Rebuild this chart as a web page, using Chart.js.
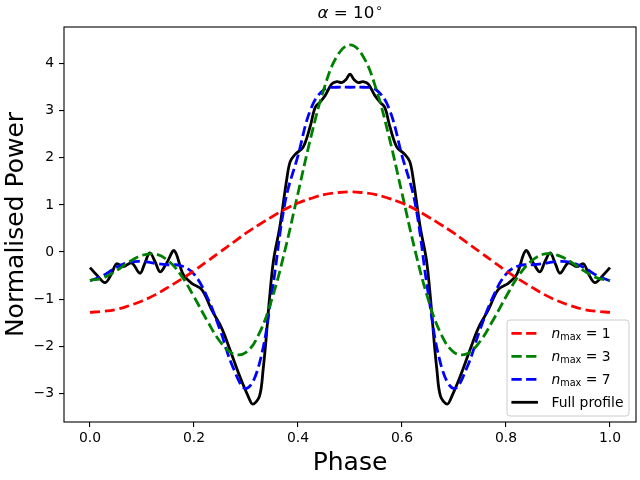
<!DOCTYPE html>
<html><head><meta charset="utf-8">
<script src="https://cdn.jsdelivr.net/npm/chart.js@4.4.1/dist/chart.umd.min.js"></script>
<style>html,body{margin:0;padding:0;background:#fff}#wrap{width:640px;height:480px}</style>
</head><body><div id="wrap"><canvas id="c" width="640" height="480"></canvas></div>
<script>
// ---- data ----
const phaseGrid = [0.000,0.025,0.050,0.075,0.100,0.125,0.150,0.175,0.200,0.225,0.250,0.275,0.300,0.325,0.350,0.375,0.400,0.425,0.450,0.475,0.500,
                   0.525,0.550,0.575,0.600,0.625,0.650,0.675,0.700,0.725,0.750,0.775,0.800,0.825,0.850,0.875,0.900,0.925,0.950,0.975,1.000];
const nmax1 = [-1.28,-1.26,-1.22,-1.14,-1.04,-0.91,-0.75,-0.58,-0.40,-0.20,0.00,0.20,0.40,0.58,0.75,0.91,1.04,1.14,1.22,1.26,1.28,
               1.26,1.22,1.14,1.04,0.91,0.75,0.58,0.40,0.20,0.00,-0.20,-0.40,-0.58,-0.75,-0.91,-1.04,-1.14,-1.22,-1.26,-1.28];
const nmax3 = [-0.60,-0.55,-0.40,-0.21,-0.07,-0.04,-0.18,-0.49,-0.95,-1.45,-1.90,-2.16,-2.13,-1.74,-0.99,0.04,1.25,2.45,3.47,4.16,4.40,
               4.16,3.47,2.45,1.25,0.04,-0.99,-1.74,-2.13,-2.16,-1.90,-1.45,-0.95,-0.49,-0.18,-0.04,-0.07,-0.21,-0.40,-0.55,-0.60];
const nmax7 = [-0.61,-0.50,-0.33,-0.22,-0.20,-0.24,-0.27,-0.29,-0.47,-0.95,-1.65,-2.45,-2.90,-2.40,-0.85,1.05,2.05,3.05,3.45,3.50,3.50,
               3.50,3.45,3.05,2.05,1.05,-0.85,-2.40,-2.90,-2.45,-1.65,-0.95,-0.47,-0.29,-0.27,-0.24,-0.20,-0.22,-0.33,-0.50,-0.61];
const fullPhase = [0.000,0.013,0.029,0.041,0.051,0.064,0.080,0.096,0.105,0.115,0.125,0.135,0.148,0.162,0.179,0.195,0.215,0.234,0.253,0.269,
                   0.288,0.304,0.313,0.326,0.333,0.338,0.345,0.353,0.365,0.378,0.385,0.395,0.410,0.423,0.433,0.442,0.452,0.465,0.475,0.484,
                   0.492,0.500,0.508,0.516,0.525,0.535,0.548,0.558,0.567,0.577,0.590,0.605,0.615,0.622,0.635,0.647,0.655,0.662,0.667,0.674,
                   0.687,0.696,0.712,0.731,0.747,0.766,0.785,0.805,0.821,0.838,0.852,0.865,0.875,0.885,0.895,0.904,0.920,0.936,0.949,0.959,
                   0.971,0.987,1.000];
const fullPower = [-0.33,-0.49,-0.65,-0.47,-0.25,-0.31,-0.23,-0.45,-0.25,-0.02,-0.20,-0.42,-0.22,0.03,-0.47,-0.66,-0.80,-1.23,-1.61,-2.07,
                   -2.64,-3.06,-3.23,-3.06,-2.49,-1.93,-1.01,-0.17,0.53,1.52,1.92,2.08,2.23,2.65,3.07,3.18,3.32,3.57,3.62,3.60,
                   3.66,3.78,3.66,3.60,3.62,3.57,3.32,3.18,3.07,2.65,2.23,2.08,1.92,1.52,0.53,-0.17,-1.01,-1.93,-2.49,-3.06,
                   -3.23,-3.06,-2.64,-2.07,-1.61,-1.23,-0.80,-0.66,-0.47,0.03,-0.22,-0.42,-0.20,-0.02,-0.25,-0.45,-0.23,-0.31,-0.25,-0.47,
                   -0.65,-0.49,-0.33];
const seriesLabels = ['n_max = 1','n_max = 3','n_max = 7','Full profile'];
const seriesColors = ['#ff0000','#008000','#0000ff','#000000'];
const xTickValues = [0.0,0.2,0.4,0.6,0.8,1.0];
const yTickValues = [-3,-2,-1,0,1,2,3,4];
const titleParts = ['α',' = 10','∘'];
const xTitle = 'Phase';
const yTitle = 'Normalised Power';

const FONT = '"DejaVu Sans", sans-serif';
const toPts = (xs, ys) => xs.map((x, i) => ({x: x, y: ys[i]}));
const dash = [10.3, 4.4];

const datasets = [
  {label: seriesLabels[0], data: toPts(phaseGrid, nmax1), borderColor: seriesColors[0], borderDash: dash, tension: 0.4},
  {label: seriesLabels[1], data: toPts(phaseGrid, nmax3), borderColor: seriesColors[1], borderDash: dash, tension: 0.4},
  {label: seriesLabels[2], data: toPts(phaseGrid, nmax7), borderColor: seriesColors[2], borderDash: dash, tension: 0.4},
  {label: seriesLabels[3], data: toPts(fullPhase, fullPower), borderColor: seriesColors[3], tension: 0.35}
].map(d => Object.assign({borderWidth: 2.8, pointRadius: 0, fill: false, borderCapStyle: 'butt', borderJoinStyle: 'round'}, d));

const decorPlugin = {
  id: 'decor',
  afterDatasetsDraw(chart) {
    const {ctx, chartArea: a} = chart;
    ctx.save();
    // frame
    ctx.strokeStyle = '#000'; ctx.lineWidth = 1.1; ctx.setLineDash([]);
    ctx.strokeRect(a.left, a.top, a.right - a.left, a.bottom - a.top);
    // title
    const cx = (a.left + a.right) / 2, by = 18;
    ctx.fillStyle = '#000'; ctx.textBaseline = 'alphabetic'; ctx.textAlign = 'left';
    ctx.font = 'italic 16.7px ' + FONT; const w0 = ctx.measureText(titleParts[0]).width;
    ctx.font = '16.7px ' + FONT; const w1 = ctx.measureText(titleParts[1]).width;
    ctx.font = '11.7px ' + FONT; const w2 = ctx.measureText(titleParts[2]).width;
    let tx = cx - (w0 + w1 + w2 + 1) / 2;
    ctx.font = 'italic 16.7px ' + FONT; ctx.fillText(titleParts[0], tx, by); tx += w0;
    ctx.font = '16.7px ' + FONT; ctx.fillText(titleParts[1], tx, by); tx += w1 + 1;
    ctx.font = '11.7px ' + FONT; ctx.fillText(titleParts[2], tx, by - 6);
    // legend
    const bw = 122, bh = 96;
    const bx = a.right - 7 - bw, byy = a.bottom - 6 - bh;
    ctx.beginPath();
    if (ctx.roundRect) ctx.roundRect(bx, byy, bw, bh, 3); else ctx.rect(bx, byy, bw, bh);
    ctx.fillStyle = 'rgba(255,255,255,0.8)'; ctx.fill();
    ctx.strokeStyle = '#cccccc'; ctx.lineWidth = 1; ctx.stroke();
    chart.data.datasets.forEach((ds, i) => {
      const ry = byy + 13.3 + i * 23;
      ctx.beginPath();
      ctx.strokeStyle = ds.borderColor; ctx.lineWidth = 2.8;
      ctx.setLineDash(ds.borderDash || []);
      ctx.lineCap = 'butt';
      ctx.moveTo(bx + 4.4, ry); ctx.lineTo(bx + 31, ry); ctx.stroke();
      ctx.setLineDash([]);
      ctx.fillStyle = '#000';
      let lx = bx + 44.4; const base = ry + 4.6;
      const lab = ds.label;
      if (lab.indexOf('_') >= 0) {
        const head = lab.split('_')[0];
        const rest = lab.split('_')[1];
        const sub = rest.split(' ')[0];
        const tail = rest.slice(sub.length);
        ctx.font = 'italic 13.9px ' + FONT; ctx.fillText(head, lx, base); lx += ctx.measureText(head).width;
        ctx.font = '9.7px ' + FONT; ctx.fillText(sub, lx, base + 2.4); lx += ctx.measureText(sub).width;
        ctx.font = '13.9px ' + FONT; ctx.fillText(tail, lx, base);
      } else {
        ctx.font = '13.9px ' + FONT; ctx.fillText(lab, lx, base);
      }
    });
    ctx.restore();
  }
};

new Chart(document.getElementById('c'), {
  type: 'line',
  data: {datasets: datasets},
  plugins: [decorPlugin],
  options: {
    responsive: false, animation: false, devicePixelRatio: 1,
    layout: {padding: {top: 27, right: 4, left: 0, bottom: 0}},
    plugins: {legend: {display: false}, title: {display: false}, tooltip: {enabled: false}},
    scales: {
      x: {
        type: 'linear', min: -0.05, max: 1.05,
        afterBuildTicks: s => { s.ticks = xTickValues.map(v => ({value: v})); },
        afterFit: s => { s.height = 58; },
        ticks: {color: '#000', font: {family: FONT, size: 13.9}, padding: 3, maxRotation: 0,
                callback: v => v.toFixed(1)},
        grid: {display: true, drawOnChartArea: false, drawTicks: true, tickLength: 5, color: '#000', lineWidth: 1.1},
        border: {display: false},
        title: {display: true, text: xTitle, color: '#000', font: {family: FONT, size: 25}, padding: {top: 0, bottom: 2}}
      },
      y: {
        type: 'linear', min: -3.61, max: 4.78,
        afterBuildTicks: s => { s.ticks = yTickValues.map(v => ({value: v})); },
        afterFit: s => { s.width = 64; },
        ticks: {color: '#000', font: {family: FONT, size: 13.9}, padding: 5,
                callback: v => String(v).replace('-', '\u2212')},
        grid: {display: true, drawOnChartArea: false, drawTicks: true, tickLength: 5, color: '#000', lineWidth: 1.1},
        border: {display: false},
        title: {display: true, text: yTitle, color: '#000', font: {family: FONT, size: 25}, padding: {top: 1, bottom: 0}}
      }
    }
  }
});
</script>
</body></html>
